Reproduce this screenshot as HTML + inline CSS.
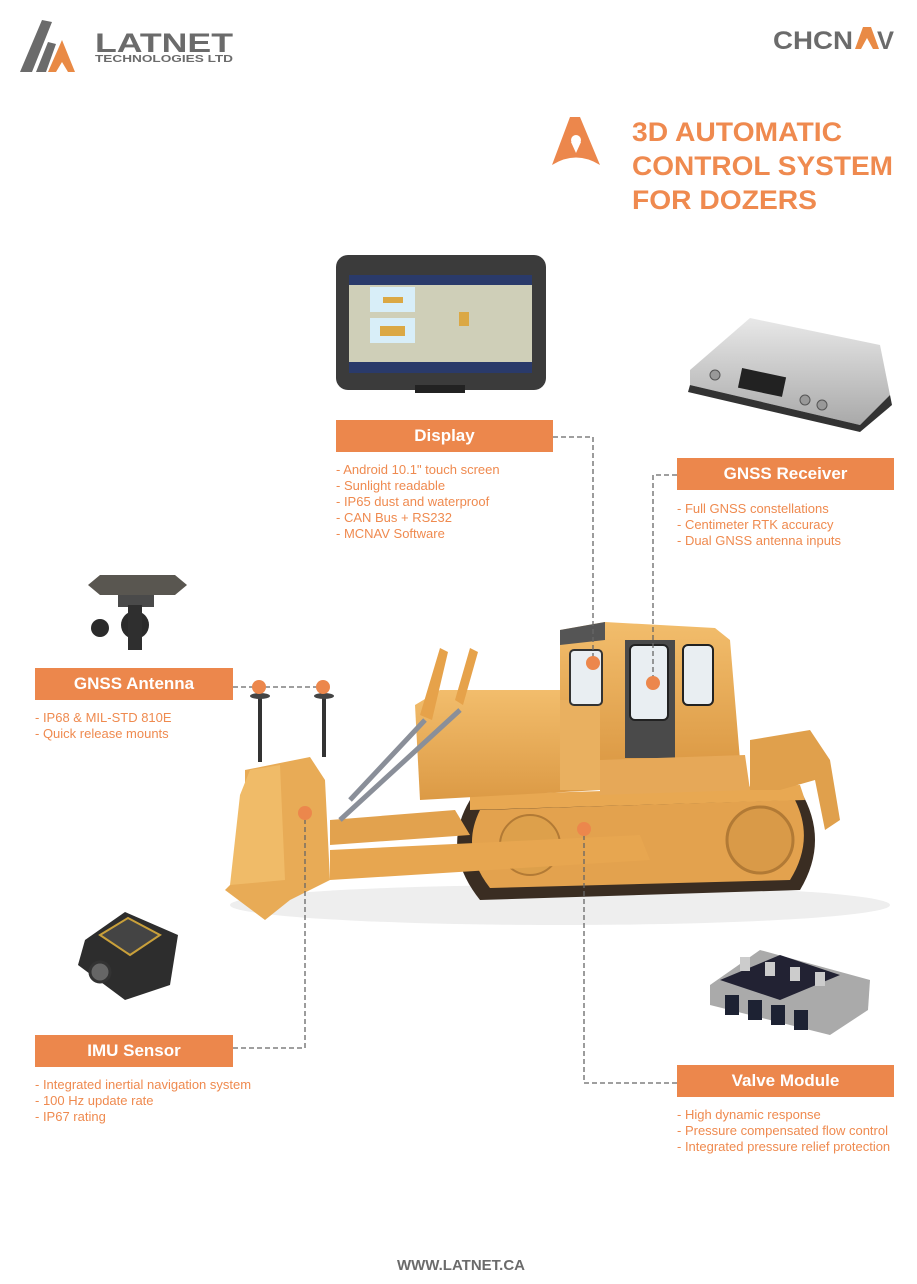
<!DOCTYPE html>
<html><head><meta charset="utf-8"><style>
body{margin:0;width:917px;height:1284px;background:#fff;position:relative;overflow:hidden;font-family:"Liberation Sans",sans-serif}
.box{position:absolute;background:#ec874c;color:#fff;font-weight:bold;font-size:17px;text-align:center;height:32px;line-height:32px}
.txt{position:absolute;color:#ef8a4f;font-size:13px;line-height:16px}
.t{position:absolute}
</style></head><body>
<svg class="t" style="left:0;top:0" width="917" height="1284">
<defs>
<linearGradient id="og" x1="0" y1="0" x2="0" y2="1"><stop offset="0" stop-color="#f2bd6c"/><stop offset="1" stop-color="#dc9a45"/></linearGradient>
<linearGradient id="sil" x1="0" y1="0" x2="0" y2="1"><stop offset="0" stop-color="#e8e8e8"/><stop offset="1" stop-color="#a9a9a9"/></linearGradient>
</defs>
<!-- Latnet logo -->
<path d="M20 72 L42 20 L52 22 L32 72 Z" fill="#6b6b6b"/>
<path d="M36 72 L48 42 L56 44 L46 72 Z" fill="#6b6b6b"/>
<path d="M48 72 L62 40 L75 72 L68 72 L62 62 L56 72 Z" fill="#e98a45"/>
<text x="95" y="52" font-size="27" font-weight="bold" fill="#6b6b6b" textLength="138" lengthAdjust="spacingAndGlyphs">LATNET</text>
<text x="95" y="62" font-size="10" font-weight="bold" fill="#6b6b6b" textLength="138" lengthAdjust="spacingAndGlyphs">TECHNOLOGIES LTD</text>
<!-- CHCNAV -->
<text x="773" y="49" font-size="25" font-weight="bold" fill="#6b6b6b" textLength="80" lengthAdjust="spacingAndGlyphs">CHCN</text>
<path d="M855 49 L863 27 L871 27 L879 49 L873 49 L867 38 L861 49 Z" fill="#e98a45"/>
<text x="877" y="49" font-size="25" font-weight="bold" fill="#6b6b6b" textLength="17" lengthAdjust="spacingAndGlyphs">V</text>
<!-- title icon -->
<path d="M552 165 L570 117 L580 117 L600 165 Q576 150 552 165 Z" fill="#ec874c"/>
<circle cx="576" cy="140" r="5" fill="#fff"/><path d="M571 142 L576 153 L581 142 Z" fill="#fff"/>
<text x="632" y="141" font-size="27" font-weight="bold" fill="#ef8a4f" textLength="210" lengthAdjust="spacingAndGlyphs">3D AUTOMATIC</text>
<text x="632" y="175" font-size="27" font-weight="bold" fill="#ef8a4f" textLength="261" lengthAdjust="spacingAndGlyphs">CONTROL SYSTEM</text>
<text x="632" y="209" font-size="27" font-weight="bold" fill="#ef8a4f" textLength="185" lengthAdjust="spacingAndGlyphs">FOR DOZERS</text>

<!-- tablet -->
<rect x="336" y="255" width="210" height="135" rx="12" fill="#3b3b3b"/>
<rect x="349" y="275" width="183" height="98" fill="#cfcfb8"/>
<rect x="349" y="275" width="183" height="10" fill="#2a3a6a"/>
<rect x="349" y="362" width="183" height="11" fill="#2a3a6a"/>
<rect x="370" y="287" width="45" height="25" fill="#d8eef8"/><rect x="383" y="297" width="20" height="6" fill="#dba844"/>
<rect x="370" y="318" width="45" height="25" fill="#d8eef8"/><rect x="380" y="326" width="25" height="10" fill="#dba844"/>
<rect x="459" y="312" width="10" height="14" fill="#dba844"/>
<rect x="415" y="385" width="50" height="8" fill="#222"/>
<!-- receiver -->
<path d="M690 370 L750 318 L880 345 L890 395 L860 425 L690 385 Z" fill="url(#sil)"/>
<path d="M690 385 L860 425 L890 395 L892 405 L860 432 L688 392 Z" fill="#333"/>
<rect x="740" y="372" width="45" height="20" fill="#222" transform="rotate(12 760 380)"/>
<circle cx="715" cy="375" r="5" fill="#999" stroke="#555"/><circle cx="805" cy="400" r="5" fill="#999" stroke="#555"/><circle cx="822" cy="405" r="5" fill="#999" stroke="#555"/>
<!-- antenna -->
<path d="M88 585 L100 575 L175 575 L187 585 L175 595 L100 595 Z" fill="#595650"/>
<rect x="118" y="595" width="36" height="12" fill="#4a4a4a"/>
<circle cx="135" cy="625" r="14" fill="#2b2b2b"/><rect x="128" y="605" width="14" height="45" fill="#2f2f2f"/>
<circle cx="100" cy="628" r="9" fill="#2b2b2b"/>
<!-- IMU -->
<path d="M85 940 L125 912 L178 935 L170 985 L125 1000 L78 965 Z" fill="#2d2d2d"/>
<path d="M100 935 L128 918 L160 935 L130 955 Z" fill="#444" stroke="#c9a03a" stroke-width="2"/>
<circle cx="100" cy="972" r="10" fill="#666" stroke="#333" stroke-width="3"/>
<!-- valve -->
<path d="M710 985 L760 950 L870 980 L868 1010 L830 1035 L710 1005 Z" fill="#aaa"/>
<path d="M720 980 L780 955 L840 975 L780 1000 Z" fill="#223"/>
<g fill="#1d2233"><rect x="725" y="995" width="14" height="20"/><rect x="748" y="1000" width="14" height="20"/><rect x="771" y="1005" width="14" height="20"/><rect x="794" y="1010" width="14" height="20"/></g>
<g fill="#ccc"><rect x="740" y="957" width="10" height="14"/><rect x="765" y="962" width="10" height="14"/><rect x="790" y="967" width="10" height="14"/><rect x="815" y="972" width="10" height="14"/></g>

<!-- DOZER -->
<ellipse cx="560" cy="905" rx="330" ry="20" fill="#eee"/>
<path d="M470 800 L800 790 Q830 840 800 890 L480 900 Q440 850 470 800 Z" fill="#3a2d22"/>
<path d="M480 810 L795 800 Q815 840 790 880 L490 888 Q460 850 480 810 Z" fill="#e3a24e"/>
<circle cx="760" cy="840" r="33" fill="#d99a48" stroke="#b27a35" stroke-width="3"/>
<circle cx="530" cy="845" r="30" fill="#dda04b" stroke="#b27a35" stroke-width="2"/>
<path d="M470 795 L800 785 L805 800 L470 810 Z" fill="#e8a852"/>
<path d="M415 705 L440 690 L600 690 L600 790 L420 800 Z" fill="url(#og)"/>
<path d="M560 690 L605 690 L620 790 L560 790 Z" fill="#e9b060"/>
<path d="M560 630 L605 622 L715 628 L730 640 L740 760 L600 765 L600 700 L560 700 Z" fill="url(#og)"/>
<path d="M560 630 L605 622 L605 640 L560 645 Z" fill="#555"/>
<rect x="570" y="650" width="32" height="55" rx="4" fill="#e9eef2" stroke="#333" stroke-width="2"/>
<path d="M625 640 L675 640 L675 758 L625 758 Z" fill="#4a4a4a"/>
<rect x="630" y="645" width="38" height="75" rx="5" fill="#e9eef2" stroke="#222" stroke-width="2"/>
<rect x="683" y="645" width="30" height="60" rx="5" fill="#e9eef2" stroke="#222" stroke-width="2"/>
<path d="M600 760 L745 755 L750 790 L600 795 Z" fill="#e6a858"/>
<path d="M750 740 L810 730 L830 760 L840 820 L825 830 L815 780 L780 790 L750 790 Z" fill="#e0a04c"/>
<path d="M330 850 L640 835 L650 860 L330 880 Z" fill="#e7a650"/>
<path d="M330 820 L455 810 L470 835 L330 845 Z" fill="#e2a24e"/>
<path d="M420 715 L440 648 L448 652 L432 720 Z" fill="#e6a24a"/>
<path d="M455 700 L470 648 L478 652 L463 705 Z" fill="#e6a24a"/>
<line x1="350" y1="800" x2="425" y2="720" stroke="#8a8f99" stroke-width="5"/>
<line x1="340" y1="820" x2="460" y2="710" stroke="#8a8f99" stroke-width="5"/>
<path d="M245 770 L310 757 L325 780 L330 880 L290 900 L265 920 L225 890 L245 870 Z" fill="#e8ab56"/>
<path d="M240 795 L250 770 L280 765 L285 880 L230 885 Z" fill="#f0bb68"/>
<rect x="258" y="697" width="4" height="65" fill="#333"/>
<rect x="322" y="697" width="4" height="60" fill="#333"/>
<ellipse cx="260" cy="696" rx="10" ry="3" fill="#444"/><ellipse cx="324" cy="696" rx="10" ry="3" fill="#444"/>

<g stroke="#666" stroke-width="1.3" stroke-dasharray="5 3" fill="none">
<path d="M553 437 H593 V662"/>
<path d="M677 475 H653 V682"/>
<path d="M233 687 H323"/>
<path d="M233 1048 H305 V813"/>
<path d="M677 1083 H584 V829"/>
</g>
<g fill="#ec874c">
<circle cx="593" cy="663" r="7"/><circle cx="653" cy="683" r="7"/>
<circle cx="259" cy="687" r="7"/><circle cx="323" cy="687" r="7"/>
<circle cx="305" cy="813" r="7"/><circle cx="584" cy="829" r="7"/>
</g>
<text x="461" y="1270" font-size="15" font-weight="bold" fill="#6b6b6b" text-anchor="middle">WWW.LATNET.CA</text>
</svg>

<div class="box" style="left:336px;top:420px;width:217px">Display</div>
<div class="txt" style="left:336px;top:462px">- Android 10.1" touch screen<br>- Sunlight readable<br>- IP65 dust and waterproof<br>- CAN Bus + RS232<br>- MCNAV Software</div>
<div class="box" style="left:677px;top:458px;width:217px">GNSS Receiver</div>
<div class="txt" style="left:677px;top:501px">- Full GNSS constellations<br>- Centimeter RTK accuracy<br>- Dual GNSS antenna inputs</div>
<div class="box" style="left:35px;top:668px;width:198px">GNSS Antenna</div>
<div class="txt" style="left:35px;top:710px">- IP68 &amp; MIL-STD 810E<br>- Quick release mounts</div>
<div class="box" style="left:35px;top:1035px;width:198px">IMU Sensor</div>
<div class="txt" style="left:35px;top:1077px">- Integrated inertial navigation system<br>- 100 Hz update rate<br>- IP67 rating</div>
<div class="box" style="left:677px;top:1065px;width:217px">Valve Module</div>
<div class="txt" style="left:677px;top:1107px">- High dynamic response<br>- Pressure compensated flow control<br>- Integrated pressure relief protection</div>
</body></html>
